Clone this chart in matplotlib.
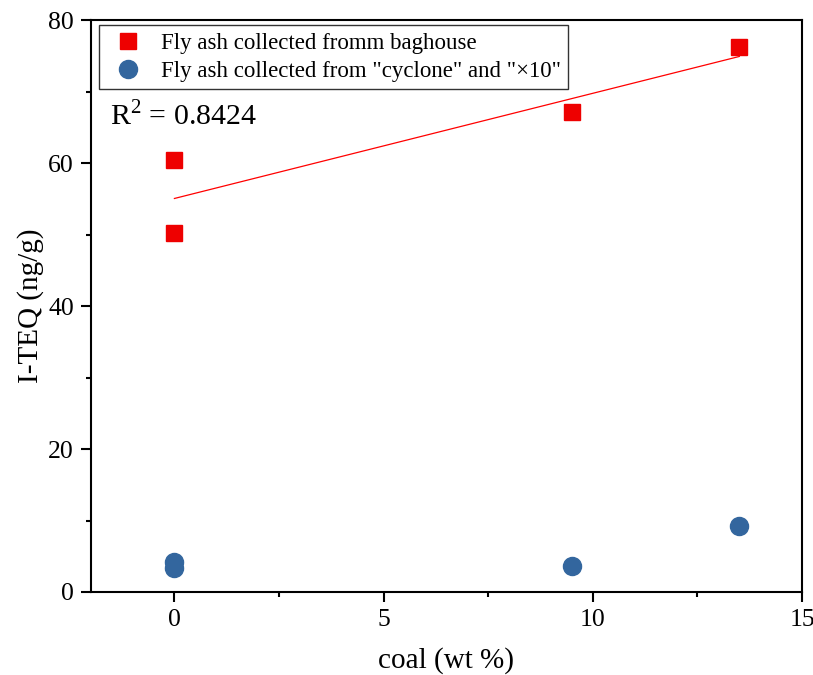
import numpy as np
import matplotlib
matplotlib.use("Agg")
import matplotlib.pyplot as plt
from matplotlib.ticker import MultipleLocator

plt.rcParams['font.family'] = ['Liberation Serif', 'DejaVu Serif']
plt.rcParams['mathtext.fontset'] = 'custom'
plt.rcParams['mathtext.rm'] = 'Liberation Serif'

coal_bag = [0, 0, 9.5, 13.5]
teq_bag = [60.4, 50.3, 67.1, 76.3]
coal_cyc = [0, 0, 9.5, 13.5]
teq_cyc = [4.2, 3.3, 3.6, 9.3]
label_bag = "Fly ash collected fromm baghouse"
label_cyc = 'Fly ash collected from "cyclone" and "×10"'

fig = plt.figure(figsize=(8.13, 6.75), dpi=100)
ax = fig.add_axes([0.1116, 0.123, 0.875, 0.847])

ax.plot(coal_bag, teq_bag, 's', color='#EE0000', markersize=11.5, linestyle='none', label=label_bag, zorder=3)
ax.plot(coal_cyc, teq_cyc, 'o', color='#33669E', markersize=13, linestyle='none', label=label_cyc, zorder=3)

x = np.array(coal_bag, dtype=float)
y = np.array(teq_bag, dtype=float)
slope, intercept = np.polyfit(x, y, 1)
yfit = slope * x + intercept
r2 = 1 - np.sum((y - yfit) ** 2) / np.sum((y - y.mean()) ** 2)
xs = np.array([x.min(), x.max()])
ax.plot(xs, slope * xs + intercept, color='#FF0000', linewidth=0.9, zorder=2)

ax.text(0.027, 0.833, r'R$^2$ = %.4f' % r2, transform=ax.transAxes, fontsize=21.5, ha='left', va='center')

ax.set_xlim(-2, 15)
ax.set_ylim(0, 80)
ax.xaxis.set_major_locator(MultipleLocator(5))
ax.xaxis.set_minor_locator(MultipleLocator(2.5))
ax.yaxis.set_major_locator(MultipleLocator(20))
ax.yaxis.set_minor_locator(MultipleLocator(10))
ax.tick_params(which='major', direction='out', length=7, width=1.5, labelsize=18.5, pad=5)
ax.tick_params(which='minor', direction='out', length=3.5, width=1.5)
for s in ax.spines.values():
    s.set_linewidth(1.5)

ax.set_xlabel('coal (wt %)', fontsize=21, labelpad=12)
ax.set_ylabel('I-TEQ (ng/g)', fontsize=21, labelpad=3)

leg = ax.legend(loc='upper left', bbox_to_anchor=(0.011, 0.991), fontsize=16.5, frameon=True,
                fancybox=False, edgecolor='black', borderpad=0.32, labelspacing=0.3,
                handlelength=1.9, handletextpad=0.5, borderaxespad=0)
leg.get_frame().set_linewidth(1.0)

fig.savefig('out.png', dpi=100)
